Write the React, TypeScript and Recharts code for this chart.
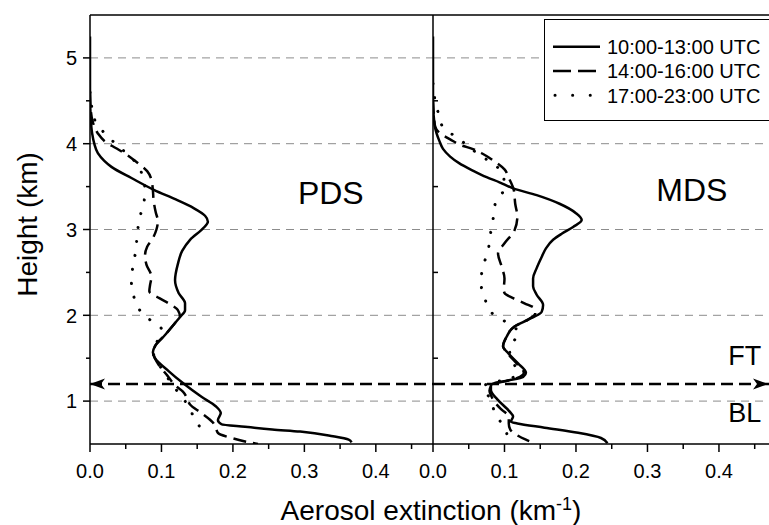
import { Legend, Line, LineChart, ReferenceDot, ReferenceLine, XAxis, YAxis } from "recharts";

type ProfilePoint = { h: number; x: number };

const seriesNames = ["10:00-13:00 UTC", "14:00-16:00 UTC", "17:00-23:00 UTC"];

const extinctionTicks = [0, 0.05, 0.1, 0.15, 0.2, 0.25, 0.3, 0.35, 0.4, 0.45];
const heightTicks = [1, 1.5, 2, 2.5, 3, 3.5, 4, 4.5, 5];
const innerHeightTicks = [1.5, 2.5, 3.5, 4.5];
const gridHeights = [1, 2, 3, 4, 5];
const blTopHeight = 1.2;
const heightDomain: [number, number] = [0.5, 5.5];
const pdsDomain: [number, number] = [0, 0.48];
const mdsDomain: [number, number] = [0, 0.47];

// [height km, extinction km-1], top to bottom
const pdsMorning = [
  [5.25, 0], [4.6, 0], [4.3, 0.001], [4.12, 0.003], [4.0, 0.006], [3.89, 0.011], [3.8, 0.02],
  [3.73, 0.03], [3.6, 0.058], [3.46, 0.09], [3.35, 0.12], [3.25, 0.145], [3.16, 0.161],
  [3.09, 0.165], [3.02, 0.159], [2.88, 0.14], [2.75, 0.129], [2.6, 0.123], [2.41, 0.119],
  [2.26, 0.124], [2.14, 0.133], [2.06, 0.133], [1.98, 0.126], [1.91, 0.119], [1.77, 0.105],
  [1.64, 0.091], [1.57, 0.088], [1.5, 0.091], [1.35, 0.11], [1.21, 0.13], [1.05, 0.156],
  [0.94, 0.176], [0.86, 0.183], [0.78, 0.179], [0.73, 0.184], [0.7, 0.217], [0.67, 0.255],
  [0.645, 0.294], [0.59, 0.34], [0.55, 0.362], [0.52, 0.366]
];

const pdsAfternoon = [
  [4.6, 0], [4.4, 0.001], [4.25, 0.004], [4.12, 0.011], [4.02, 0.022], [3.95, 0.036],
  [3.88, 0.05], [3.78, 0.066], [3.68, 0.08], [3.58, 0.086], [3.46, 0.088], [3.34, 0.089],
  [3.2, 0.092], [3.1, 0.095], [3.0, 0.093], [2.9, 0.088], [2.8, 0.08], [2.7, 0.077],
  [2.59, 0.079], [2.45, 0.086], [2.35, 0.084], [2.28, 0.083], [2.2, 0.097], [2.14, 0.11],
  [2.06, 0.123], [1.98, 0.126], [1.91, 0.119], [1.77, 0.105], [1.64, 0.091], [1.55, 0.089],
  [1.45, 0.094], [1.3, 0.108], [1.17, 0.121], [1.11, 0.13], [1.03, 0.136], [0.96, 0.14],
  [0.86, 0.156], [0.75, 0.172], [0.69, 0.176], [0.63, 0.179], [0.57, 0.198], [0.53, 0.217],
  [0.5, 0.235]
];

const pdsEvening = [
  [4.6, 0], [4.45, 0.002], [4.27, 0.007], [4.1, 0.023], [3.94, 0.044], [3.81, 0.061],
  [3.7, 0.07], [3.58, 0.075], [3.45, 0.077], [3.3, 0.075], [3.12, 0.069], [2.93, 0.066],
  [2.75, 0.064], [2.57, 0.06], [2.37, 0.058], [2.2, 0.062], [2.08, 0.068], [1.99, 0.077],
  [1.9, 0.092], [1.84, 0.1], [1.75, 0.097], [1.64, 0.091], [1.55, 0.089], [1.45, 0.095],
  [1.33, 0.104], [1.15, 0.119], [1.0, 0.133], [0.9, 0.14], [0.82, 0.145], [0.72, 0.152],
  [0.63, 0.161]
];

const mdsMorning = [
  [5.25, 0], [4.5, 0], [4.23, 0.002], [4.12, 0.005], [4.03, 0.009], [3.94, 0.014], [3.85, 0.024],
  [3.77, 0.037], [3.69, 0.055], [3.61, 0.075], [3.55, 0.093], [3.48, 0.112], [3.4, 0.145],
  [3.3, 0.177], [3.19, 0.2], [3.11, 0.208], [3.03, 0.196], [2.95, 0.18], [2.88, 0.168],
  [2.78, 0.158], [2.68, 0.152], [2.55, 0.145], [2.43, 0.14], [2.34, 0.14], [2.24, 0.145],
  [2.12, 0.154], [2.04, 0.152], [1.95, 0.133], [1.87, 0.114], [1.75, 0.103], [1.64, 0.098],
  [1.56, 0.105], [1.44, 0.119], [1.33, 0.13], [1.28, 0.126], [1.24, 0.105], [1.21, 0.086],
  [1.18, 0.081], [1.13, 0.081], [1.02, 0.09], [0.88, 0.107], [0.82, 0.112], [0.76, 0.109],
  [0.74, 0.118], [0.69, 0.156], [0.63, 0.203], [0.57, 0.235], [0.51, 0.244]
];

const mdsAfternoon = [
  [4.5, 0], [4.35, 0.001], [4.2, 0.003], [4.12, 0.01], [4.05, 0.024], [3.98, 0.04], [3.94, 0.055],
  [3.88, 0.07], [3.8, 0.085], [3.7, 0.1], [3.6, 0.106], [3.46, 0.113], [3.3, 0.115],
  [3.15, 0.118], [2.99, 0.114], [2.84, 0.1], [2.72, 0.091], [2.57, 0.096], [2.43, 0.1],
  [2.3, 0.099], [2.26, 0.1], [2.2, 0.112], [2.14, 0.128], [2.08, 0.142], [2.02, 0.143],
  [1.95, 0.133], [1.87, 0.114], [1.75, 0.103], [1.64, 0.098], [1.56, 0.104], [1.44, 0.117],
  [1.33, 0.127], [1.27, 0.118], [1.23, 0.1], [1.2, 0.084], [1.12, 0.079], [1.05, 0.082],
  [0.98, 0.087], [0.9, 0.096], [0.82, 0.106], [0.74, 0.106], [0.67, 0.108], [0.6, 0.118],
  [0.55, 0.13], [0.51, 0.142]
];

const mdsEvening = [
  [4.7, 0], [4.5, 0.003], [4.37, 0.007], [4.19, 0.014], [4.07, 0.034], [3.98, 0.048],
  [3.88, 0.063], [3.77, 0.083], [3.65, 0.098], [3.48, 0.1], [3.33, 0.088], [3.12, 0.084],
  [2.93, 0.08], [2.75, 0.077], [2.57, 0.07], [2.38, 0.067], [2.21, 0.072], [2.03, 0.082],
  [1.91, 0.104], [1.79, 0.121], [1.7, 0.113], [1.6, 0.107], [1.45, 0.112], [1.35, 0.118],
  [1.27, 0.111], [1.22, 0.085], [1.17, 0.07], [1.05, 0.078], [0.98, 0.081], [0.82, 0.09],
  [0.65, 0.102], [0.6, 0.104]
];

// where the panel annotations sit, in data units
const pdsTag = { x: 0.337, h: 3.435 };
const mdsTag = { x: 0.362, h: 3.46 };
const ftTag = { x: 0.436, h: 1.528 };
const blTag = { x: 0.436, h: 0.873 };

const toPoints = (rows: number[][]): ProfilePoint[] => rows.map(([h, x]) => ({ h, x }));

const FONT = "'Liberation Sans', Arial, sans-serif";
const axisLine = { stroke: "#000", strokeWidth: 1.5 };

const lineStyles = [
  { strokeWidth: 2.5 },
  { strokeWidth: 2.5, strokeDasharray: "13 7" },
  { strokeWidth: 3, strokeDasharray: "0.1 14", strokeLinecap: "round" as const }
];

const legendStyles = [
  { strokeWidth: 2.5 },
  { strokeWidth: 2.5, strokeDasharray: "18 7" },
  { strokeWidth: 3, strokeDasharray: "0.1 17.5", strokeLinecap: "round" as const }
];

const onStep = (v: number, step: number) => Math.abs(v / step - Math.round(v / step)) < 1e-6;

function ExtTick(props: any) {
  const { x, y, payload } = props;
  const major = onStep(payload.value, 0.1);
  return (
    <g>
      <line x1={x} y1={y} x2={x} y2={y + (major ? 8 : 5)} stroke="#000" strokeWidth={1.5} />
      {major && (
        <text x={x} y={y + 34} textAnchor="middle" fontSize={20} fill="#000">
          {payload.value.toFixed(1)}
        </text>
      )}
    </g>
  );
}

function HeightTick(props: any) {
  const { x, y, payload } = props;
  const major = onStep(payload.value, 1);
  return (
    <g>
      <line x1={x - (major ? 7 : 4)} y1={y} x2={x} y2={y} stroke="#000" strokeWidth={1.5} />
      {major && (
        <text x={x - 13} y={y} dy="0.36em" textAnchor="end" fontSize={20} fill="#000">
          {payload.value}
        </text>
      )}
    </g>
  );
}

function InnerTick(props: any) {
  const { x, y } = props;
  return <line x1={x} y1={y} x2={x + 5} y2={y} stroke="#000" strokeWidth={1.5} />;
}

function HeightTitle(props: any) {
  const vb = props.viewBox ?? { x: 0, y: 15, height: 429 };
  const cx = vb.x + 26.7;
  const cy = vb.y + vb.height / 2 - 5;
  return (
    <text
      x={cx}
      y={cy}
      dy="0.355em"
      transform={`rotate(-90 ${cx} ${cy})`}
      textAnchor="middle"
      fontSize={28}
      fill="#000"
    >
      Height (km)
    </text>
  );
}

function ArrowHead(props: any) {
  const { viewBox, side } = props;
  if (!viewBox) return null;
  const y = viewBox.y;
  if (side === "left") {
    const t = viewBox.x;
    return <path d={`M${t},${y} L${t + 15},${y - 5.5} L${t + 11},${y} L${t + 15},${y + 5.5} Z`} fill="#000" />;
  }
  const t = viewBox.x + viewBox.width - 1;
  return <path d={`M${t},${y} L${t - 15},${y - 5.5} L${t - 11},${y} L${t - 15},${y + 5.5} Z`} fill="#000" />;
}

function LegendBox() {
  return (
    <svg width={240} height={102} style={{ display: "block", fontFamily: FONT }}>
      <rect x={0.5} y={0.5} width={239} height={101} fill="#fff" stroke="#000" strokeWidth={1} />
      {seriesNames.map((name, i) => {
        const cy = 27.7 + i * 24.3;
        return (
          <g key={name}>
            <line x1={i === 2 ? 11 : 9} y1={cy} x2={56} y2={cy} stroke="#000" {...legendStyles[i]} />
            <text x={63} y={cy + 7.2} fontSize={20} fill="#000">
              {name}
            </text>
          </g>
        );
      })}
    </svg>
  );
}

type PanelProps = {
  side: "left" | "right";
  domain: [number, number];
  profiles: ProfilePoint[][];
  tag: string;
  tagAt: { x: number; h: number };
};

function Panel({ side, domain, profiles, tag, tagAt }: PanelProps) {
  const left = side === "left";
  return (
    <LineChart
      width={left ? 433 : 367}
      height={525}
      margin={{ top: 15, right: 0, bottom: 0, left: left ? 0 : 30 }}
    >
      <XAxis
        type="number"
        dataKey="x"
        domain={domain}
        allowDataOverflow
        ticks={extinctionTicks}
        interval={0}
        height={81}
        tickSize={0}
        tickMargin={0}
        tickLine={false}
        tick={<ExtTick />}
        axisLine={axisLine}
      />
      <YAxis
        type="number"
        domain={heightDomain}
        allowDataOverflow
        ticks={left ? heightTicks : innerHeightTicks}
        interval={0}
        width={left ? 90 : 1}
        tickSize={0}
        tickMargin={0}
        tickLine={false}
        tick={left ? <HeightTick /> : <InnerTick />}
        axisLine={axisLine}
        label={left ? <HeightTitle /> : undefined}
      />
      {gridHeights.map((h) => (
        <ReferenceLine key={h} y={h} stroke="#8c8c8c" strokeWidth={1} strokeDasharray="8 6" />
      ))}
      <ReferenceLine y={heightDomain[1]} stroke="#000" strokeWidth={1.5} ifOverflow="visible" />
      {profiles.map((data, i) => (
        <Line
          key={seriesNames[i]}
          data={data}
          dataKey="h"
          name={seriesNames[i]}
          type="monotoneY"
          stroke="#000"
          fill="none"
          dot={false}
          activeDot={false}
          isAnimationActive={false}
          {...lineStyles[i]}
        />
      ))}
      <ReferenceLine
        y={blTopHeight}
        stroke="#000"
        strokeWidth={2.5}
        strokeDasharray="12 6"
        label={<ArrowHead side={side} />}
      />
      <ReferenceDot
        x={tagAt.x}
        y={tagAt.h}
        r={0}
        fill="none"
        stroke="none"
        label={{ value: tag, position: "center", fontSize: 32, fill: "#000" }}
      />
      {!left && (
        <ReferenceDot
          x={ftTag.x}
          y={ftTag.h}
          r={0}
          fill="none"
          stroke="none"
          label={{ value: "FT", position: "center", fontSize: 27, fill: "#000" }}
        />
      )}
      {!left && (
        <ReferenceDot
          x={blTag.x}
          y={blTag.h}
          r={0}
          fill="none"
          stroke="none"
          label={{ value: "BL", position: "center", fontSize: 27, fill: "#000" }}
        />
      )}
      {!left && (
        <Legend
          layout="vertical"
          align="center"
          verticalAlign="middle"
          wrapperStyle={{ left: 142, top: 19, width: 240, height: 102 }}
          content={() => <LegendBox />}
        />
      )}
    </LineChart>
  );
}

export default function App() {
  const pds = [toPoints(pdsMorning), toPoints(pdsAfternoon), toPoints(pdsEvening)];
  const mds = [toPoints(mdsMorning), toPoints(mdsAfternoon), toPoints(mdsEvening)];

  return (
    <div
      style={{
        position: "absolute",
        left: 0,
        top: 0,
        width: 769,
        height: 525,
        overflow: "hidden",
        background: "#fff",
        fontFamily: FONT,
        color: "#000"
      }}
    >
      <div style={{ position: "absolute", left: 0, top: 0 }}>
        <Panel side="left" domain={pdsDomain} profiles={pds} tag="PDS" tagAt={pdsTag} />
      </div>
      <div style={{ position: "absolute", left: 402, top: 0 }}>
        <Panel side="right" domain={mdsDomain} profiles={mds} tag="MDS" tagAt={mdsTag} />
      </div>
      <div
        style={{
          position: "absolute",
          left: 131,
          top: 497,
          width: 600,
          textAlign: "center",
          fontSize: 28,
          lineHeight: "28px",
          whiteSpace: "nowrap"
        }}
      >
        Aerosol extinction (km
        <sup style={{ fontSize: 18, lineHeight: 0, verticalAlign: "baseline", position: "relative", top: -10 }}>
          -1
        </sup>
        )
      </div>
    </div>
  );
}
